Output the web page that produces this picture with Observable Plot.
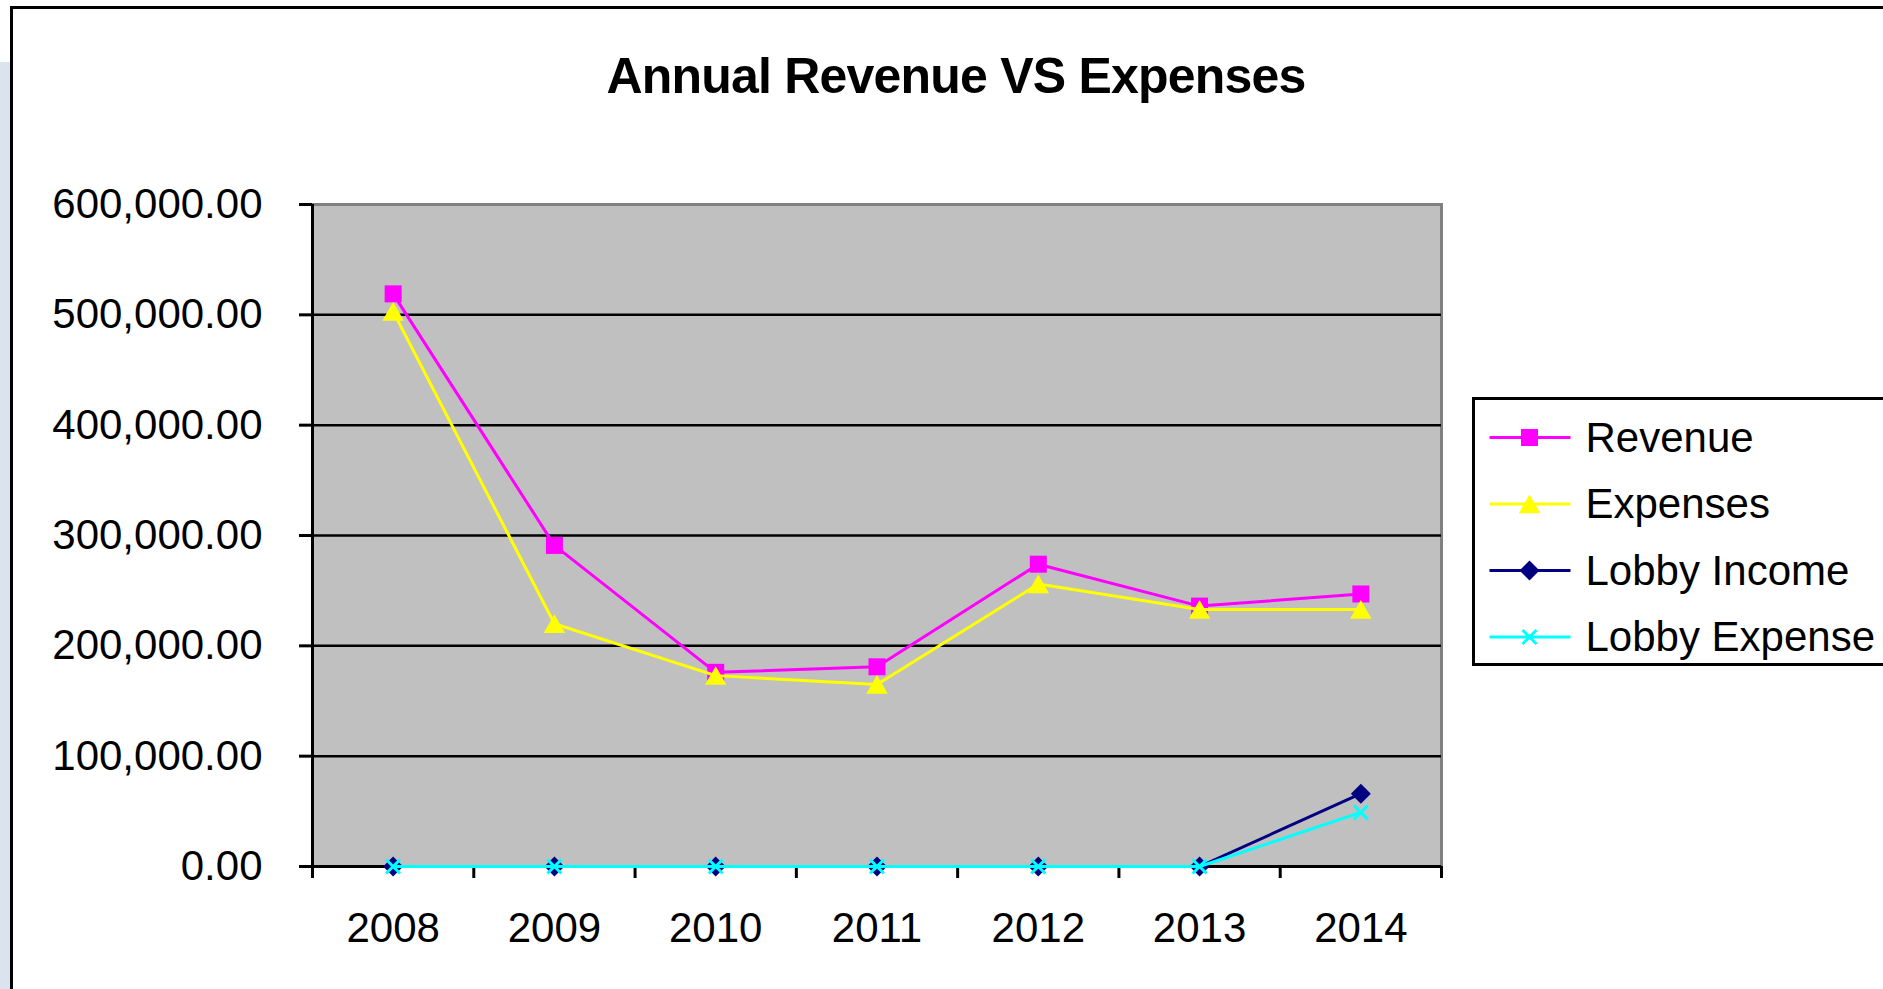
<!DOCTYPE html>
<html><head><meta charset="utf-8">
<script src="https://cdn.jsdelivr.net/npm/d3@7"></script>
<script src="https://cdn.jsdelivr.net/npm/@observablehq/plot@0.6"></script>
<style>
html,body{margin:0;padding:0;width:1883px;height:989px;overflow:hidden;background:#fff;font-family:"Liberation Sans",Arial,sans-serif;}
#strip{position:absolute;left:0;top:62px;width:10px;height:927px;background:#dbe4ee;}
#frame{position:absolute;left:9.5px;top:6px;width:2000px;height:1100px;border:3px solid #000;box-sizing:border-box;}
#title{position:absolute;left:456px;width:1000px;top:47px;text-align:center;font-weight:bold;font-size:50px;letter-spacing:-0.8px;line-height:normal;color:#000;}
#chart{position:absolute;left:0;top:0;}
#legend{position:absolute;left:1471.5px;top:396.5px;width:600px;height:269.5px;border:3px solid #000;box-sizing:border-box;background:#fff;}
#legend svg{display:block;}
</style></head><body>
<div id="strip"></div><div id="frame"></div>
<div id="chart"></div>
<div id="title">Annual Revenue VS Expenses</div>
<div id="legend"></div>
<script>
const years = [2008, 2009, 2010, 2011, 2012, 2013, 2014];
const revenue = [519000, 291000, 176000, 181000, 274000, 236000, 247000];
const expenses = [503000, 220000, 173000, 165000, 256000, 233000, 233000];
const lobbyIncome = [0, 0, 0, 0, 0, 0, 66000];
const lobbyExpense = [0, 0, 0, 0, 0, 0, 49000];
const seriesNames = ["Revenue", "Expenses", "Lobby Income", "Lobby Expense"];
const seriesValues = [revenue, expenses, lobbyIncome, lobbyExpense];
const seriesColors = ["#ff00ff", "#ffff00", "#000080", "#00ffff"];
const seriesSymbols = ["square", "triangle", "diamond2", "times"];
const yTicks = [0, 100000, 200000, 300000, 400000, 500000, 600000];

const symbolR = [9.6, 8, 9, 6.4];
const symbolDy = [0, 3, 0, 0];
const d3Symbols = {square: d3.symbolSquare, triangle: d3.symbolTriangle, diamond2: d3.symbolDiamond2, times: d3.symbolTimes};

const x0 = years[0] - 0.5, x1 = years[years.length - 1] + 0.5;
const boundaries = d3.range(years.length + 1).map(i => x0 + i);

const seriesMarks = [];
seriesNames.forEach((name, s) => {
  const rows = years.map((year, i) => ({year, value: seriesValues[s][i], series: name}));
  const stroked = seriesSymbols[s] === "times";
  seriesMarks.push(Plot.line(rows, {x: "year", y: "value", stroke: seriesColors[s], strokeWidth: 3}));
  seriesMarks.push(Plot.dot(rows, {
    x: "year", y: "value", symbol: () => seriesSymbols[s], r: symbolR[s], dy: symbolDy[s],
    fill: stroked ? "none" : seriesColors[s],
    stroke: stroked ? seriesColors[s] : "none",
    strokeWidth: stroked ? 3 : 0
  }));
});

const chart = Plot.plot({
  width: 1883, height: 989,
  marginLeft: 312, marginRight: 442, marginTop: 204, marginBottom: 123,
  style: {background: "transparent", fontFamily: "'Liberation Sans', Arial, sans-serif", fontSize: "42px", color: "#000", overflow: "visible"},
  x: {type: "linear", domain: [x0, x1], label: null},
  y: {domain: [yTicks[0], yTicks[yTicks.length - 1]], label: null},
  symbol: {type: "identity"},
  marks: [
    Plot.frame({fill: "#c0c0c0", stroke: "#808080", strokeWidth: 3}),
    Plot.gridY(yTicks.slice(1, -1), {stroke: "#000", strokeOpacity: 1, strokeWidth: 2.5}),
    Plot.ruleX([x0], {stroke: "#000", strokeWidth: 3}),
    Plot.ruleY([yTicks[0]], {stroke: "#000", strokeWidth: 3}),
    Plot.axisY({ticks: yTicks, tickFormat: d3.format(",.2f"), tickSize: 13, tickPadding: 37, strokeWidth: 3, fontSize: 42, label: null}),
    Plot.axisX({ticks: boundaries, tickFormat: () => "", tickSize: 12, strokeWidth: 3, label: null}),
    Plot.axisX({ticks: years, tickFormat: d => String(d), tickSize: 0, tickPadding: 46, fontSize: 42, label: null}),
    ...seriesMarks
  ]
});
document.getElementById("chart").appendChild(chart);

// Legend
const lg = d3.select("#legend").append("svg").attr("width", 600).attr("height", 264);
seriesNames.forEach((name, s) => {
  const cy = 37.5 + 66.5 * s;
  const g = lg.append("g");
  g.append("line").attr("x1", 14.5).attr("x2", 95.5).attr("y1", cy).attr("y2", cy)
    .attr("stroke", seriesColors[s]).attr("stroke-width", 3);
  const stroked = seriesSymbols[s] === "times";
  g.append("path")
    .attr("d", d3.symbol(d3Symbols[seriesSymbols[s]], Math.PI * symbolR[s] * symbolR[s])())
    .attr("transform", `translate(54.5,${cy + symbolDy[s]})`)
    .attr("fill", stroked ? "none" : seriesColors[s])
    .attr("stroke", stroked ? seriesColors[s] : "none")
    .attr("stroke-width", stroked ? 3 : 0);
  g.append("text").attr("x", 110.5).attr("y", cy + 14)
    .attr("font-family", "'Liberation Sans', Arial, sans-serif").attr("font-size", 42).attr("fill", "#000")
    .text(name);
});
</script>
</body></html>
